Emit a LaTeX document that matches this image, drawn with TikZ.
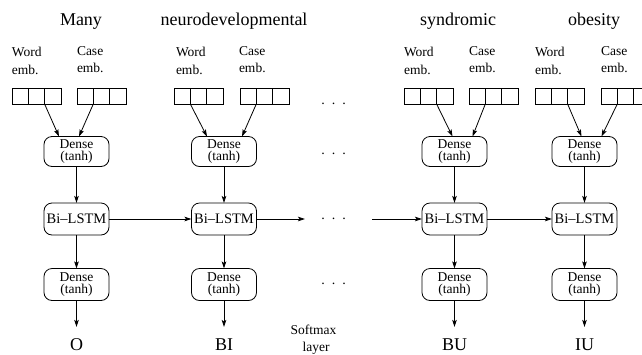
\documentclass[tikz,border=0pt]{standalone}
\usepackage{fontspec}
\setmainfont{Liberation Serif}
\usetikzlibrary{arrows.meta,calc}
\newcommand\embrow[3]{%
  \foreach \i in {1,2,3} {\node[cell, anchor=north west] (#1-\i) at ({#2+(\i-1)*16.3}, #3) {};}}
\newcommand\mydots{.\hspace{7pt}.\hspace{7pt}.}
\begin{document}
\begin{tikzpicture}[x=1pt,y=-1pt,
  every node/.style={inner sep=0pt, outer sep=0pt},
  box/.style={draw, line width=0.8pt, rounded corners=8pt, minimum width=65pt, align=center, font=\fontsize{13.5}{12}\selectfont},
  dbox/.style={box, minimum height=30pt},
  lbox/.style={box, minimum height=32pt, font=\fontsize{14.5}{16}\selectfont},
  cell/.style={draw, line width=0.8pt, minimum width=16.3pt, minimum height=16pt},
  arr/.style={-{Stealth[length=7pt,width=4.5pt,inset=1.5pt]}, line width=0.8pt},
  ttl/.style={font=\fontsize{18}{20}\selectfont, anchor=base},
  emb/.style={font=\fontsize{13.5}{15}\selectfont, anchor=base west},
  outlbl/.style={font=\fontsize{18}{20}\selectfont, anchor=base, text height=12pt, text depth=0pt, outer ysep=11pt},
  dotrow/.style={font=\fontsize{14}{16}\selectfont, anchor=base}
]
\useasboundingbox (0,0) rectangle (642,354);

% titles
\node[ttl] (t1) at (81,25) {Many};
\node[ttl] (t2) at (234,25) {neurodevelopmental};
\node[ttl] (t3) at (458,25) {syndromic};
\node[ttl] (t4) at (594,25) {obesity};

% embedding labels
\foreach \n/\wx/\cx in {1/12/77, 2/176/239, 3/404/469, 4/535/601} {
  \node[emb] (wl\n) at (\wx,56) {Word};
  \node[emb] (wm\n) at (\wx,74) {emb.};
  \node[emb] (cl\n) at (\cx,55) {Case};
  \node[emb] (cm\n) at (\cx,72) {emb.};
}

% embedding blocks
\embrow{w1}{12}{88}
\embrow{c1}{77}{88}
\embrow{w2}{174}{88}
\embrow{c2}{240}{88}
\embrow{w3}{404}{88}
\embrow{c3}{469}{88}
\embrow{w4}{535}{88}
\embrow{c4}{601}{88}

% boxes
\foreach \n/\x/\o in {1/76.5/O, 2/224/BI, 3/454.5/BU, 4/584.5/IU} {
  \node[dbox] (d\n) at (\x,151.5) {Dense\\(tanh)};
  \node[lbox] (b\n) at (\x,219) {Bi–LSTM};
  \node[dbox, minimum height=32pt] (e\n) at (\x,284.5) {Dense\\(tanh)};
  \node[outlbl] (o\n) at (\x,350) {\o};
  \draw[arr] (d\n) -- (b\n);
  \draw[arr] (b\n) -- (e\n);
  \draw[arr] (e\n) -- (o\n);
}

% embedding arrows
\draw[arr] (w1-2.south east) -- ([xshift=-17.5pt]d1.north);
\draw[arr] (c1-1.south east) -- ([xshift=2.5pt]d1.north);
\draw[arr] (w2-1.south east) -- ([xshift=-17pt]d2.north);
\draw[arr] (c2-1.south east) -- ([xshift=18pt]d2.north);
\draw[arr] (w3-2.south east) -- ([xshift=-2pt]d3.north);
\draw[arr] (c3-1.south east) -- ([xshift=18pt]d3.north);
\draw[arr] (w4-2.south east) -- ([xshift=-3pt]d4.north);
\draw[arr] (c4-1.south east) -- ([xshift=17pt]d4.north);

% recurrent arrows
\coordinate (gl) at (305,219);
\coordinate (gr) at (372,219);
\draw[arr] (b1) -- (b2);
\draw[arr] (b2) -- (gl);
\draw[arr] (gr) -- (b3);
\draw[arr] (b3) -- (b4);

% dots
\node[dotrow] (p1) at (333.5,104) {\mydots};
\node[dotrow] (p2) at (333.5,154) {\mydots};
\node[dotrow] (p3) at (333.5,219) {\mydots};
\node[dotrow] (p4) at (333.5,284) {\mydots};

% softmax
\node[font=\fontsize{13.5}{15}\selectfont, anchor=base] (s1) at (313.5,334) {Softmax};
\node[font=\fontsize{13.5}{15}\selectfont, anchor=base] (s2) at (316,351) {layer};
\end{tikzpicture}
\end{document}
